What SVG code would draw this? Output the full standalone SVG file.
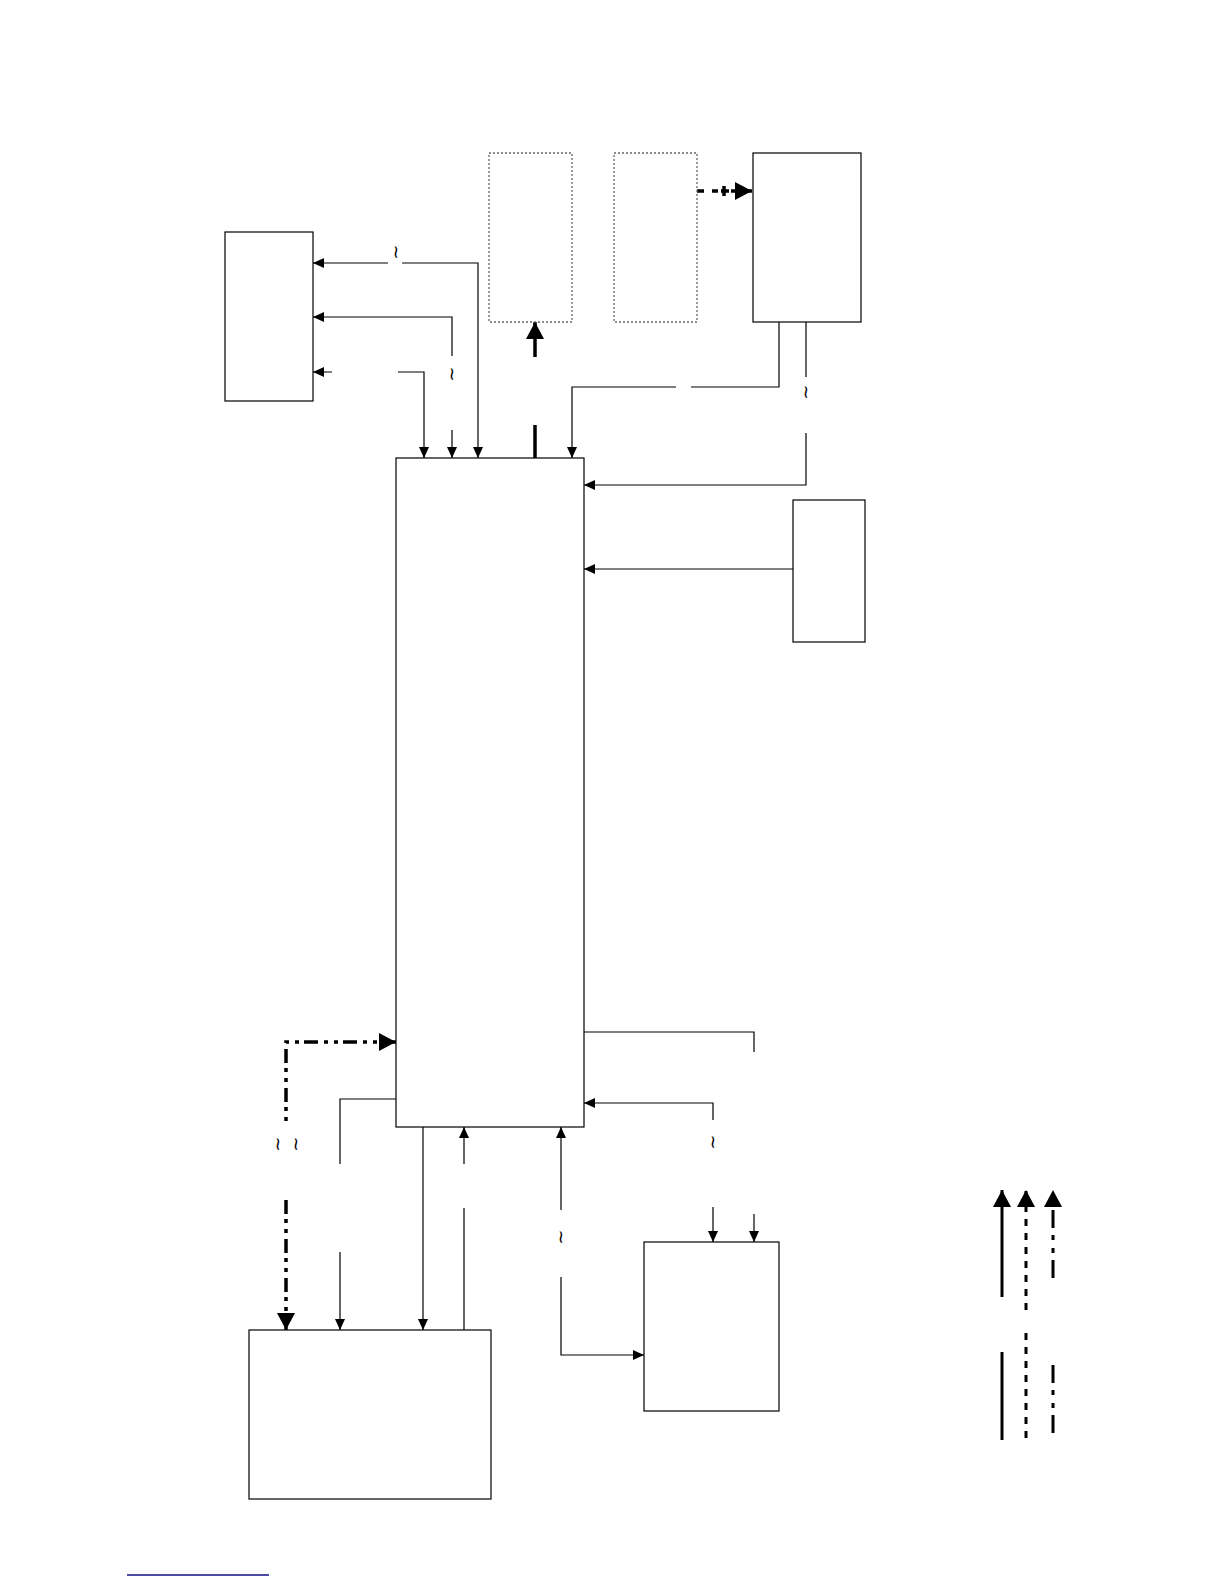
<svg xmlns="http://www.w3.org/2000/svg" width="1224" height="1584" viewBox="0 0 1224 1584">
<defs>
<style>
.box{fill:#fff;stroke:#000;stroke-width:1.2}
.dbox{fill:#fff;stroke:#666;stroke-width:1.3;stroke-dasharray:2 2}
.ln{fill:none;stroke:#000;stroke-width:1.2}
.lnb{fill:none;stroke:#000;stroke-width:1.2;marker-end:url(#a)}
.lnbb{fill:none;stroke:#000;stroke-width:1.2;marker-start:url(#as);marker-end:url(#a)}
.thick{fill:none;stroke:#000;stroke-width:3.5}
.leg{fill:none;stroke:#000;stroke-width:3}
.tl{font-family:"DejaVu Sans","Liberation Sans",sans-serif;font-size:18px;fill:#000}
</style>
<marker id="a" markerUnits="userSpaceOnUse" markerWidth="11" markerHeight="10" refX="11" refY="5" orient="auto"><path d="M0,0 L11,5 L0,10 z" fill="#000"/></marker>
<marker id="as" markerUnits="userSpaceOnUse" markerWidth="11" markerHeight="10" refX="11" refY="5" orient="auto-start-reverse"><path d="M0,0 L11,5 L0,10 z" fill="#000"/></marker>
<marker id="A" markerUnits="userSpaceOnUse" markerWidth="18" markerHeight="18" refX="17" refY="9" orient="auto"><path d="M0,0 L17,9 L0,18 z" fill="#000"/></marker>
<marker id="As" markerUnits="userSpaceOnUse" markerWidth="18" markerHeight="18" refX="17" refY="9" orient="auto-start-reverse"><path d="M0,0 L17,9 L0,18 z" fill="#000"/></marker>
</defs>
<rect width="1224" height="1584" fill="#fff"/>

<g id="connectors">
<path id="c1" class="lnbb" d="M313,263 H388 M402,263 H478 V458"/>
<path id="c2" class="lnbb" d="M313,317 H452 V356 M452,430 V458"/>
<path id="c3" class="lnbb" d="M313,372 H332 M398,372 H424 V458"/>
<path id="c4" class="thick" d="M535,458 V425 M535,357 V322" marker-end="url(#A)"/>
<path id="c5" class="lnb" d="M779,322 V387 H691 M676,387 H572 V458"/>
<path id="c6" class="lnb" d="M806,322 V377 M806,433 V485 H584"/>
<path id="c7" class="lnb" d="M793,569 H584"/>
<path id="c8" class="thick" d="M697,191 H704 M712,191 H718 M721,191 H729 M724,186 V196 M731,191 H736 L752,191" stroke-width="3" marker-end="url(#A)"/>
<path id="c9" class="ln" d="M584,1032 H754 V1052"/>
<path id="c10" class="lnb" d="M754,1214 V1242"/>
<path id="c11" class="lnbb" d="M584,1103 H713 V1120 M713,1207 V1242"/>
<path id="c12" class="lnbb" d="M561,1127 V1210 M561,1277 V1355 H644"/>
<path id="c13" class="lnb" d="M396,1099 H340 V1164 M340,1252 V1330"/>
<path id="c14" class="lnb" d="M423,1127 V1330"/>
<path id="c15" class="lnb" d="M464,1330 V1208 M464,1164 V1127"/>
<path id="c16" fill="none" stroke="#000" stroke-width="3.5" d="M396,1042 H286 V1125 M286,1200 V1330" stroke-dasharray="14 5 4 6 4 6" marker-start="url(#As)" marker-end="url(#A)"/>
<text class="tl" transform="translate(396,252) rotate(90)" text-anchor="middle" dominant-baseline="central">~</text>
<text class="tl" transform="translate(452,374) rotate(90)" text-anchor="middle" dominant-baseline="central">~</text>
<text class="tl" transform="translate(806,392) rotate(90)" text-anchor="middle" dominant-baseline="central">~</text>
<text class="tl" transform="translate(713,1142) rotate(90)" text-anchor="middle" dominant-baseline="central">~</text>
<text class="tl" transform="translate(561,1237) rotate(90)" text-anchor="middle" dominant-baseline="central">~</text>
<text class="tl" transform="translate(278,1144) rotate(90)" text-anchor="middle" dominant-baseline="central">~</text>
<text class="tl" transform="translate(296,1144) rotate(90)" text-anchor="middle" dominant-baseline="central">~</text>
</g>

<g id="n_left"><rect class="box" x="225" y="232" width="88" height="169"/></g>
<g id="n_dot1"><rect class="dbox" x="489" y="153" width="83" height="169"/></g>
<g id="n_dot2"><rect class="dbox" x="614" y="153" width="83" height="169"/></g>
<g id="n_topright"><rect class="box" x="753" y="153" width="108" height="169"/></g>
<g id="n_main"><rect class="box" x="396" y="458" width="188" height="669"/></g>
<g id="n_small"><rect class="box" x="793" y="500" width="72" height="142"/></g>
<g id="n_bottomright"><rect class="box" x="644" y="1242" width="135" height="169"/></g>
<g id="n_bottomleft"><rect class="box" x="249" y="1330" width="242" height="169"/></g>

<g id="legend">
<path class="leg" d="M1002,1297 V1190" marker-end="url(#A)"/>
<path class="leg" d="M1002,1352 V1440"/>
<path class="leg" d="M1026,1310 V1190" stroke-dasharray="7 7" marker-end="url(#A)"/>
<path class="leg" d="M1026,1333 V1440" stroke-dasharray="7 7"/>
<path class="leg" d="M1053,1278 V1190" stroke-dasharray="18 7 5 8 5 7" marker-end="url(#A)"/>
<path class="leg" d="M1053,1365 V1440" stroke-dasharray="18 7 5 8 5 7"/>
</g>

<line x1="127" y1="1575" x2="269" y2="1575" stroke="#10108a" stroke-width="1.5"/>
</svg>
